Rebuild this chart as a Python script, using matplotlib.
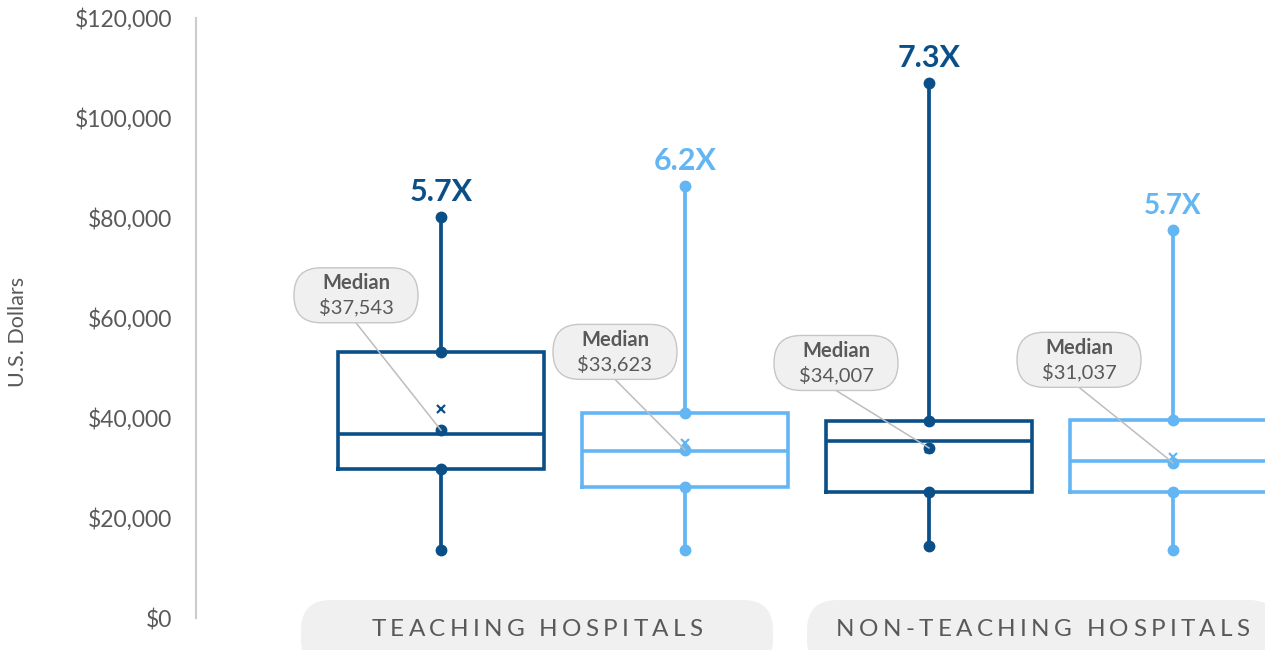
import matplotlib
matplotlib.use("Agg")
import matplotlib.pyplot as plt
from matplotlib.patches import FancyBboxPatch
from matplotlib.ticker import FuncFormatter

plt.rcParams.update({
    "font.family": ["Lato", "DejaVu Sans"],
    "text.color": "#595959",
    "ytick.color": "#595959",
})

DARK = "#0b4f89"
LIGHT = "#63b6f3"
GRAY_TXT = "#595959"

# data
groups = ["TEACHING HOSPITALS", "NON-TEACHING HOSPITALS"]
box_colors = [DARK, LIGHT, DARK, LIGHT]
ratio_labels = ["5.7X", "6.2X", "7.3X", "5.7X"]
ratio_sizes = [22, 22, 22, 20]
median_values = [37543, 33623, 34007, 31037]
median_lines = [36800, 33400, 35400, 31400]
q1 = [29800, 26200, 25200, 25200]
q3 = [53200, 41000, 39400, 39600]
whisker_low = [13600, 13600, 14400, 13600]
whisker_high = [80200, 86400, 107000, 77600]
means = [41800, 35000, 33800, 32200]
y_ticks = [0, 20000, 40000, 60000, 80000, 100000, 120000]

# callout offsets from the median dot, in pixels (x right, y up)
callout_dx = [-85, -70, -93, -94]
callout_dy = [135, 98, 85, 103]

W, H = 1265, 650
fig = plt.figure(figsize=(W / 100, H / 100), dpi=100)
ax = fig.add_axes([196 / W, 32 / H, (W - 196) / W, 600 / H])

positions = list(range(len(median_values)))
for i, c in enumerate(box_colors):
    stats = [{
        "med": median_lines[i], "q1": q1[i], "q3": q3[i],
        "whislo": whisker_low[i], "whishi": whisker_high[i], "mean": means[i],
    }]
    lw = 2.6
    ax.bxp(stats, positions=[i], widths=0.845, showcaps=False, showfliers=False,
           showmeans=True, manage_ticks=False,
           boxprops=dict(color=c, linewidth=lw, solid_joinstyle="miter"),
           medianprops=dict(color=c, linewidth=lw),
           whiskerprops=dict(color=c, linewidth=2.7),
           meanprops=dict(marker="x", markeredgecolor=c, markersize=6,
                          markeredgewidth=1.6, linestyle="none", zorder=6))
    ax.plot([i] * 5, [whisker_low[i], q1[i], median_values[i], q3[i], whisker_high[i]],
            "o", color=c, ms=7.5, zorder=5)
    ax.annotate(ratio_labels[i], (i, whisker_high[i]), xytext=(0, 16),
                textcoords="offset pixels", ha="center", va="baseline",
                fontsize=ratio_sizes[i], fontweight="bold", color=c)

ax.set_xlim(-1.004, 3.377)
ax.set_ylim(0, 120000)
ax.set_yticks(y_ticks)
ax.yaxis.set_major_formatter(FuncFormatter(lambda v, p: f"${v:,.0f}"))
ax.tick_params(axis="y", length=0, pad=17, labelsize=16.5)
ax.set_xticks([])
for s in ["top", "right", "bottom"]:
    ax.spines[s].set_visible(False)
ax.spines["left"].set_color("#cccccc")
ax.spines["left"].set_linewidth(1.5)
ax.patch.set_alpha(0)

fig.text(18 / W, 318 / H, "U.S. Dollars", rotation=90, ha="center", va="center",
         fontsize=15.5, color=GRAY_TXT)

# overlay in pixel units for rounded callouts and category pills
fig.canvas.draw()
renderer = fig.canvas.get_renderer()
ov = fig.add_axes([0, 0, 1, 1], zorder=5)
ov.set_xlim(0, W)
ov.set_ylim(0, H)
ov.axis("off")
ov.patch.set_alpha(0)

for i in positions:
    px, py = ax.transData.transform((i, median_values[i]))
    cx, cy = px + callout_dx[i], py + callout_dy[i]
    ov.plot([cx, px], [cy - 27.5, py], color="#bdbdbd", lw=1.1, zorder=1)
    ov.add_patch(FancyBboxPatch((cx - 62, cy - 27.5), 124, 55,
                                boxstyle="round,pad=0,rounding_size=27",
                                fc="#f0f0f0", ec="#c6c6c6", lw=1, zorder=2))
    ov.text(cx, cy + 12, "Median", ha="center", va="center", fontsize=14.5,
            fontweight="bold", color=GRAY_TXT, zorder=3)
    ov.text(cx, cy - 12, f"${median_values[i]:,}", ha="center", va="center",
            fontsize=14.5, color=GRAY_TXT, zorder=3)


def text_width(s, **kw):
    t = ov.text(0, 0, s, **kw)
    w = t.get_window_extent(renderer).width
    t.remove()
    return w


def tracked_text(xc, y, s, track, **kw):
    # matplotlib has no letter-spacing, so place glyphs one by one
    total = text_width(s, **kw) + track * (len(s) - 1)
    x0 = xc - total / 2
    for k, ch in enumerate(s):
        if ch == " ":
            continue
        start = text_width(s[:k + 1], **kw) - text_width(ch, **kw) + track * k
        ov.text(x0 + start, y, ch, ha="left", va="center", **kw)


group_pos = [0.5, 2.5]
group_shift = [-26, -8]
for g, gp, sh in zip(groups, group_pos, group_shift):
    gx, _ = ax.transData.transform((gp, 0))
    tx = gx + sh
    ov.add_patch(FancyBboxPatch((tx - 236, -20), 472, 70,
                                boxstyle="round,pad=0,rounding_size=30",
                                fc="#f0f0f0", ec="none", zorder=1))
    tracked_text(tx, 21, g, 4.3, fontsize=17.5, color=GRAY_TXT, zorder=2)

fig.savefig("out.png", dpi=100, facecolor="white")
